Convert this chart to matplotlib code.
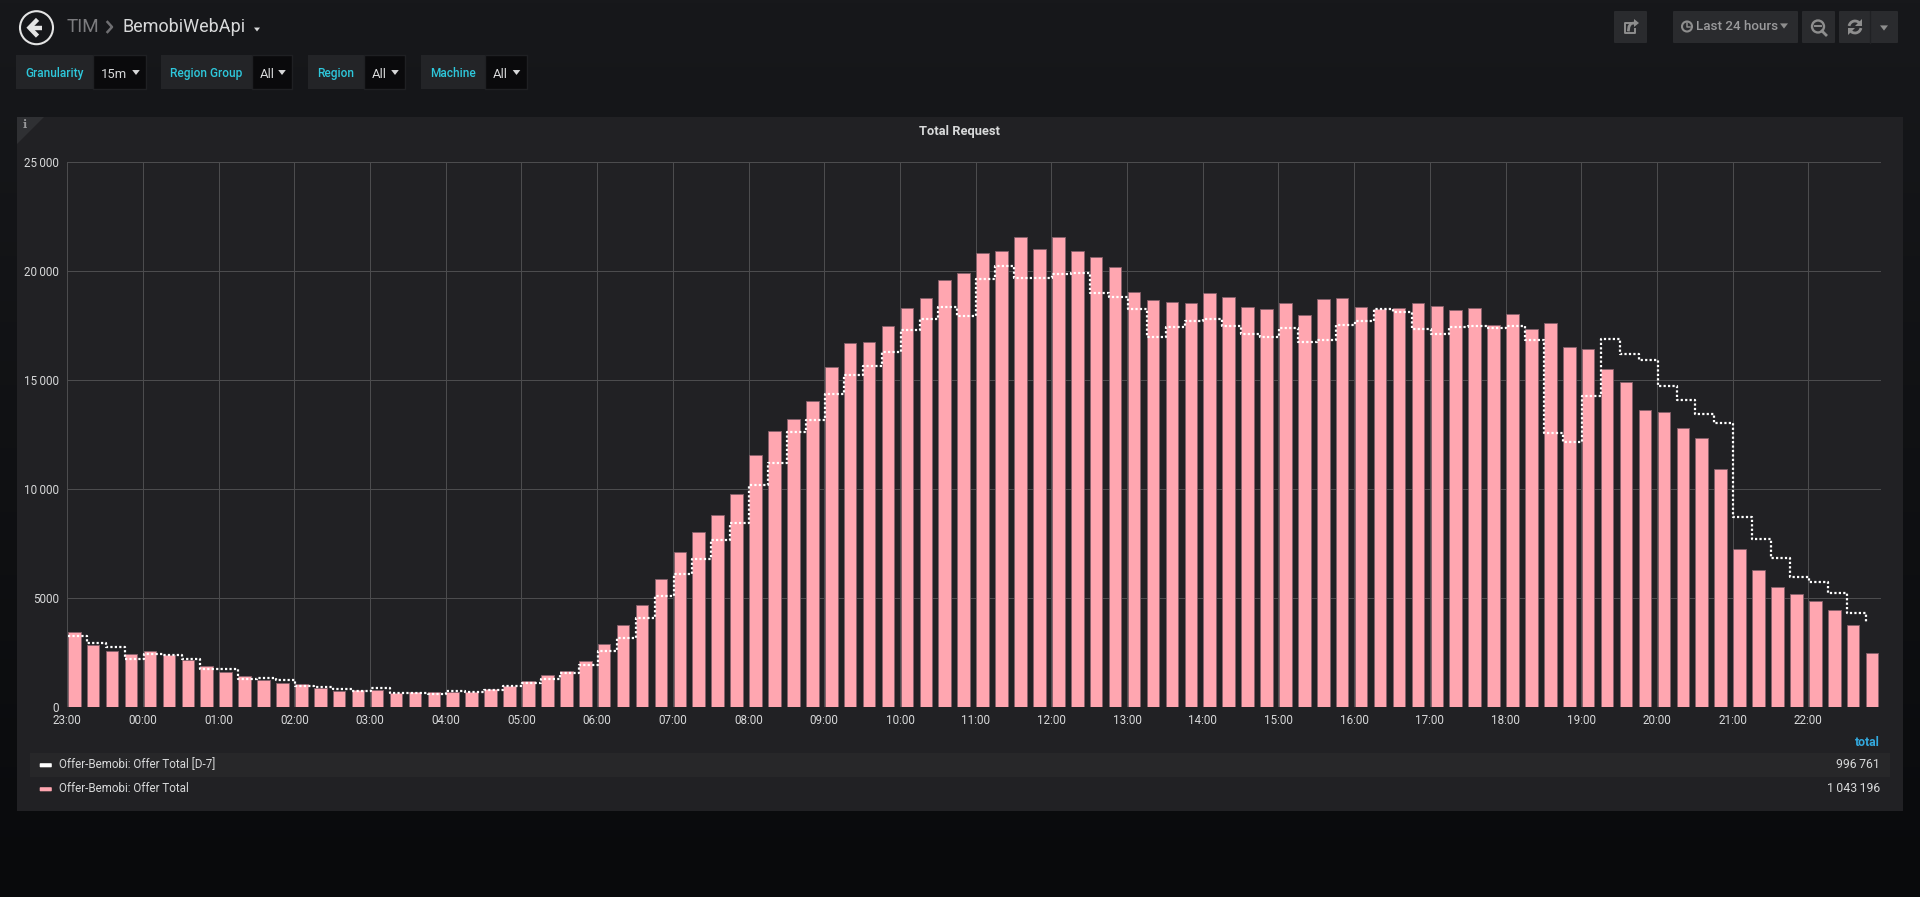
import numpy as np
import matplotlib
matplotlib.use("Agg")
import matplotlib.pyplot as plt
from matplotlib.patches import Rectangle, Polygon, Circle, FancyBboxPatch, Arc
from matplotlib.ticker import FuncFormatter

plt.rcParams['font.family'] = ['Roboto', 'DejaVu Sans']

W, H = 1920, 897

# request counts per 15 minutes, starting at 23:00
offer_total = [
    3440, 2875, 2570, 2446, 2570, 2416, 2170, 1880, 1620, 1450, 1254, 1100,
    1085, 887, 765, 795, 810, 673, 719, 719, 719, 688, 856, 963,
    1223, 1483, 1682, 2140, 2920, 3755, 4680, 5871, 7110, 8043, 8838, 9801,
    11560, 12676, 13241, 14037, 15612, 16712, 16743, 17477, 18300, 18760, 19590, 19940,
    20840, 20930, 21560, 21010, 21590, 20930, 20640, 20180, 19050, 18680, 18590, 18560,
    19000, 18800, 18360, 18290, 18530, 17980, 18715, 18760, 18360, 18270, 18300, 18530,
    18410, 18230, 18300, 17520, 18030, 17350, 17630, 16530, 16450, 15520, 14940, 13620,
    13530, 12800, 12370, 10920, 7250, 6300, 5520, 5210, 4880, 4465, 3760, 2510,
]
offer_total_d7 = [
    3290, 2950, 2783, 2200, 2446, 2385, 2200, 1743, 1743, 1300, 1330, 1238,
    994, 917, 856, 765, 871, 642, 657, 596, 734, 703, 780, 963,
    1131, 1315, 1590, 1957, 2600, 3190, 4082, 5090, 6116, 6804, 7691, 8470,
    10200, 11208, 12630, 13180, 14358, 15244, 15657, 16300, 17293, 17798, 18350, 17950,
    19648, 20260, 19710, 19680, 19880, 19940, 19000, 18820, 18260, 17000, 17430, 17700,
    17810, 17500, 17140, 16990, 17400, 16740, 16850, 17550, 17720, 18290, 18130, 17340,
    17125, 17450, 17490, 17415, 17490, 16850, 12585, 12190, 14280, 16900, 16220, 15950,
    14755, 14110, 13470, 13040, 8715, 7700, 6870, 5990, 5750, 5260, 4330, 3870,
]
hour_labels = ['23:00', '00:00', '01:00', '02:00', '03:00', '04:00', '05:00', '06:00',
               '07:00', '08:00', '09:00', '10:00', '11:00', '12:00', '13:00', '14:00',
               '15:00', '16:00', '17:00', '18:00', '19:00', '20:00', '21:00', '22:00']
y_ticks = [0, 5000, 10000, 15000, 20000, 25000]
legend_names = ['Offer-Bemobi: Offer Total [D-7]', 'Offer-Bemobi: Offer Total']
legend_totals = ['996\u2009761', '1\u2009043\u2009196']
legend_colors = ['#ffffff', '#ffa6b0']
variables = [('Granularity', '15m'), ('Region Group', 'All'), ('Region', 'All'), ('Machine', 'All')]
var_boxes = [(16, 93, 146), (161, 252, 292), (308, 364, 405), (421, 484.5, 526.5)]

TEXT = '#d8d9da'
CYAN = '#2ec8dc'
BTN = '#2a2b2e'
ICON = '#8e8e8e'


def caret(ax, x, y, w, color):
    ax.add_patch(Polygon([(x - w, y - w * 0.65), (x + w, y - w * 0.65), (x, y + w * 0.65)],
                         closed=True, fc=color, ec='none'))


fig = plt.figure(figsize=(W / 100, H / 100), dpi=100)

# page chrome, in pixels
ui = fig.add_axes([0, 0, 1, 1], zorder=0)
ui.set_xlim(0, W)
ui.set_ylim(H, 0)
ui.axis('off')

grad = np.linspace(0, 1, 256).reshape(-1, 1)
top = np.array([0x17, 0x18, 0x1b]) / 255
bottom = np.array([0x09, 0x0a, 0x0c]) / 255
ui.imshow(top + (bottom - top) * grad[:, :, None], extent=(0, W, H, 0), aspect='auto', zorder=0)

# back button and breadcrumb
ui.add_patch(Circle((36.5, 27.7), 16.5, fc='none', ec='#e4e4e4', lw=1.5))
ui.plot([29, 42], [27.7, 27.7], color='#e4e4e4', lw=3.2, solid_capstyle='butt')
ui.plot([36, 29.5, 36], [21, 27.7, 34.5], color='#e4e4e4', lw=3.2, solid_joinstyle='miter')
ui.text(67, 27, 'TIM', color='#7b7b7e', fontsize=13.6, va='center', ha='left')
ui.plot([107.5, 112, 107.5], [22, 27, 32], color='#6f6f72', lw=1.8)
ui.text(123, 27, 'BemobiWebApi', color=TEXT, fontsize=13, va='center', ha='left')
caret(ui, 257, 29.5, 3, TEXT)

# template variable boxes
for (label, value), (x0, xs, x1) in zip(variables, var_boxes):
    ui.add_patch(Rectangle((x0, 55), xs - x0, 34, fc='#232427', ec='none'))
    ui.add_patch(Rectangle((xs, 55), x1 - xs, 34, fc='#0a0a0c', ec='#1f2023', lw=1))
    ui.text((x0 + xs) / 2, 73.5, label, color=CYAN, fontsize=8.6, fontweight='medium', va='center', ha='center')
    ui.text(xs + 8, 74, value, color=TEXT, fontsize=9.4, va='center', ha='left')
    caret(ui, x1 - 10, 72.5, 3.8, TEXT)

# top right buttons
for x0, x1 in [(1614, 1647), (1673, 1798), (1802, 1835), (1839, 1898)]:
    ui.add_patch(FancyBboxPatch((x0 + 1, 12), x1 - x0 - 2, 30, boxstyle='round,pad=1', fc=BTN, ec='none'))
ui.plot([1870, 1870], [11, 43], color='#202124', lw=1)
ui.text(1696, 27, 'Last 24 hours', color='#9a9a9c', fontsize=9.6, fontweight='medium', va='center', ha='left')
ui.add_patch(Circle((1687, 26.5), 5, fc='none', ec=ICON, lw=1.5))
ui.plot([1687, 1687, 1690], [23, 27, 27], color=ICON, lw=1.1)
caret(ui, 1784, 26, 4, ICON)
ui.add_patch(Circle((1818, 26.5), 6, fc='none', ec=ICON, lw=1.7))
ui.plot([1822, 1826], [31, 35], color=ICON, lw=2)
ui.plot([1815, 1821], [26.5, 26.5], color=ICON, lw=1.4)
# refresh icon
ui.add_patch(Arc((1855, 27), 12, 12, theta1=190, theta2=330, ec=ICON, lw=2))
ui.add_patch(Arc((1855, 27), 12, 12, theta1=10, theta2=150, ec=ICON, lw=2))
ui.add_patch(Polygon([(1862, 19), (1862, 26), (1855, 26)], closed=True, fc=ICON, ec='none'))
ui.add_patch(Polygon([(1848, 35), (1848, 28), (1855, 28)], closed=True, fc=ICON, ec='none'))
caret(ui, 1884, 28, 4, ICON)
# share icon
ui.plot([1633, 1624.5, 1624.5, 1635, 1635], [23.5, 23.5, 33, 33, 29], color=ICON, lw=1.4)
ui.plot([1628.5, 1629, 1631, 1634.5], [30, 26.5, 23.5, 23], color=ICON, lw=2)
ui.add_patch(Polygon([(1634, 19), (1639, 23), (1634, 27)], closed=True, fc=ICON, ec='none'))

# panel
ui.add_patch(Rectangle((17, 117), 1886, 694, fc='#212124', ec='none'))
ui.add_patch(Polygon([(17, 117), (44, 117), (17, 144)], closed=True, fc='#2f3033', ec='none'))
ui.text(24.5, 125, 'i', color='#9a9a9c', fontsize=8, fontweight='bold', family='DejaVu Serif', va='center', ha='center')
ui.text(959.5, 131, 'Total Request', color=TEXT, fontsize=9.3, fontweight='bold', va='center', ha='center')

# legend table
ui.add_patch(Rectangle((30, 753), 1860, 24, fc='#272729', ec='none'))
ui.text(1880, 742, 'total', color='#33a9de', fontsize=8.8, fontweight='bold', va='center', ha='right')
for i in range(len(legend_names)):
    y = 765 + i * 24
    ui.add_patch(FancyBboxPatch((40.5, y - 1), 10.5, 2.5, boxstyle='round,pad=0.8', fc=legend_colors[i], ec='none'))
    ui.text(59, y - 0.5, legend_names[i], color=TEXT, fontsize=8.4, va='center', ha='left')
    ui.text(1880, y - 0.5, legend_totals[i], color=TEXT, fontsize=8.8, va='center', ha='right')

# the graph itself
ax = fig.add_axes([67.3 / W, 1 - 707.3 / H, (1881 - 67.3) / W, (707.3 - 162.3) / H], zorder=1)
ax.patch.set_alpha(0)
for spine in ax.spines.values():
    spine.set_visible(False)

slots = np.arange(len(offer_total)) * 0.25
ax.bar(slots + 0.009, offer_total, width=0.166, align='edge', color='#ffa6b0', edgecolor='#86606a', linewidth=0.6, zorder=2)
ax.plot(slots + 0.009, offer_total_d7, drawstyle='steps-post', color='#ffffff', lw=1.6,
        linestyle=(0, (1, 1)), dash_capstyle='butt', zorder=3)

ax.set_xlim(0, 23.96)
ax.set_ylim(0, 25000)
ax.set_xticks(np.arange(len(hour_labels)))
ax.set_xticklabels(hour_labels)
ax.set_yticks(y_ticks)
ax.yaxis.set_major_formatter(FuncFormatter(lambda v, p: '{:,.0f}'.format(v).replace(',', '\u2009') if v > 5000 else '{:.0f}'.format(v)))
ax.grid(True, color='#4c4c4e', linewidth=0.75, zorder=1)
ax.set_axisbelow(True)
ax.tick_params(axis='y', length=0, labelsize=8.4, labelcolor=TEXT, pad=6)
ax.tick_params(axis='x', length=0, labelsize=8.4, labelcolor=TEXT, pad=5)

fig.savefig('out.png', dpi=100)
